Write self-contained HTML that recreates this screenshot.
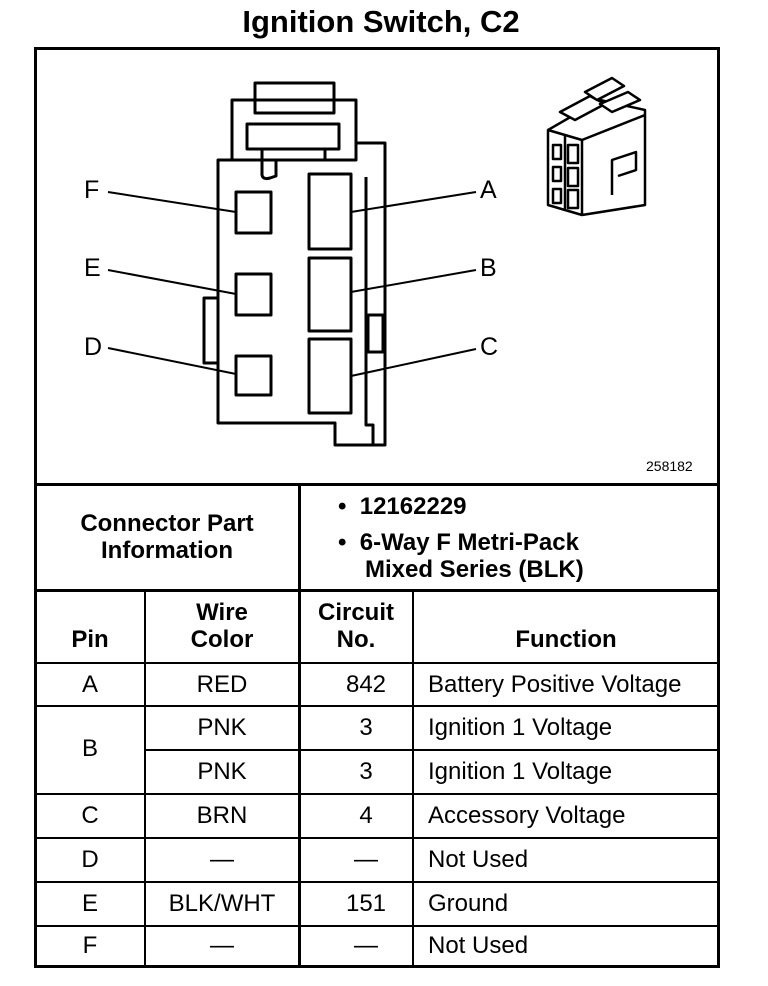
<!DOCTYPE html>
<html><head><style>
body{margin:0;background:#fff;width:768px;height:986px;position:relative;font-family:"Liberation Sans",Arial,sans-serif;color:#000;overflow:hidden}
.t{position:absolute;white-space:nowrap;line-height:28px}
.b{font-weight:bold}
.c{text-align:center}
.ln{position:absolute;background:#000}
</style></head><body>
<div class="t b c" style="left:0;width:762px;top:4px;font-size:31px;line-height:36px">Ignition Switch, C2</div>

<div class="ln" style="left:34px;top:47px;width:686px;height:3px"></div>
<div class="ln" style="left:34px;top:47px;width:3px;height:920px"></div>
<div class="ln" style="left:717px;top:47px;width:3px;height:920px"></div>
<div class="ln" style="left:34px;top:965px;width:686px;height:3px"></div>
<div class="ln" style="left:34px;top:483px;width:686px;height:3px"></div>
<div class="ln" style="left:34px;top:589px;width:686px;height:3px"></div>
<div class="ln" style="left:298px;top:483px;width:3px;height:484px"></div>
<div class="ln" style="left:144px;top:589px;width:2px;height:378px"></div>
<div class="ln" style="left:412px;top:589px;width:2px;height:378px"></div>
<div class="ln" style="left:34px;top:662px;width:686px;height:2px"></div>
<div class="ln" style="left:34px;top:705px;width:686px;height:2px"></div>
<div class="ln" style="left:144px;top:749px;width:576px;height:2px"></div>
<div class="ln" style="left:34px;top:793px;width:686px;height:2px"></div>
<div class="ln" style="left:34px;top:837px;width:686px;height:2px"></div>
<div class="ln" style="left:34px;top:881px;width:686px;height:2px"></div>
<div class="ln" style="left:34px;top:925px;width:686px;height:2px"></div>

<svg style="position:absolute;left:0;top:0" width="768" height="486">
<g fill="none" stroke="#000" stroke-width="3" stroke-linejoin="round">
<rect x="255" y="83" width="79" height="30"/>
<path d="M232 106 V160 H218 V423 H335 V445 H373 V425 H366 V177"/>
<path d="M232 106 V100 H356 V160 H232"/>
<path d="M356 143 H385 V445 H373"/>
<rect x="247" y="124" width="92" height="25"/>
<path d="M262 149 V175 Q263 180 270 178 L276 176 V160"/>
<path d="M325 149 V160"/>
<rect x="204" y="298" width="14" height="65"/>
<rect x="368" y="315" width="15" height="37"/>
<rect x="236" y="192" width="35" height="41"/>
<rect x="236" y="274" width="35" height="41"/>
<rect x="236" y="356" width="35" height="39"/>
<rect x="309" y="174" width="42" height="75"/>
<rect x="309" y="258" width="42" height="73"/>
<rect x="309" y="339" width="42" height="74"/>
</g>
<g stroke="#000" stroke-width="2">
<line x1="108" y1="192" x2="236" y2="212"/>
<line x1="108" y1="270" x2="236" y2="294"/>
<line x1="108" y1="348" x2="236" y2="374"/>
<line x1="351" y1="212" x2="476" y2="192"/>
<line x1="351" y1="292" x2="476" y2="270"/>
<line x1="351" y1="376" x2="476" y2="349"/>
</g>
<g fill="#fff" stroke="#000" stroke-width="2.5" stroke-linejoin="round">
<path d="M548 130 L600 100 L645 110 L645 205 L582 215 L548 205 Z"/>
<path d="M548 130 L582 140 L645 115 M582 140 V215 M565 135 V210"/>
<path d="M560 112 L590 96 L605 104 L575 120 Z"/>
<path d="M585 92 L612 78 L624 86 L597 100 Z"/>
<path d="M600 104 L628 92 L640 100 L612 112 Z"/>
<path d="M612 195 V160 L636 152 V170 L618 176"/>
<rect x="553" y="145" width="8" height="14"/>
<rect x="553" y="167" width="8" height="14"/>
<rect x="553" y="189" width="8" height="14"/>
<rect x="568" y="145" width="10" height="18"/>
<rect x="568" y="168" width="10" height="18"/>
<rect x="568" y="190" width="10" height="18"/>
</g>
</svg>
<div class="t" style="left:84px;top:176px;font-size:25px">F</div>
<div class="t" style="left:84px;top:254px;font-size:25px">E</div>
<div class="t" style="left:84px;top:333px;font-size:25px">D</div>
<div class="t" style="left:480px;top:176px;font-size:25px">A</div>
<div class="t" style="left:480px;top:254px;font-size:25px">B</div>
<div class="t" style="left:480px;top:333px;font-size:25px">C</div>
<div class="t" style="left:646px;top:452px;font-size:14px">258182</div>

<div style="position:absolute;left:0;top:0;font-size:24px">
<div class="t b c" style="left:36px;width:262px;top:510px">Connector Part</div>
<div class="t b c" style="left:36px;width:262px;top:537px">Information</div>
<div class="t b" style="left:338px;top:493px">•&nbsp; 12162229</div>
<div class="t b" style="left:338px;top:529px">•&nbsp; 6-Way F Metri-Pack</div>
<div class="t b" style="left:365px;top:556px">Mixed Series (BLK)</div>

<div class="t b c" style="left:36px;width:108px;top:626px">Pin</div>
<div class="t b c" style="left:146px;width:152px;top:599px">Wire</div>
<div class="t b c" style="left:146px;width:152px;top:626px">Color</div>
<div class="t b c" style="left:300px;width:112px;top:599px">Circuit</div>
<div class="t b c" style="left:300px;width:112px;top:626px">No.</div>
<div class="t b c" style="left:414px;width:304px;top:626px">Function</div>

<div class="t c" style="left:36px;width:108px;top:671px">A</div>
<div class="t c" style="left:36px;width:108px;top:735px">B</div>
<div class="t c" style="left:36px;width:108px;top:802px">C</div>
<div class="t c" style="left:36px;width:108px;top:846px">D</div>
<div class="t c" style="left:36px;width:108px;top:890px">E</div>
<div class="t c" style="left:36px;width:108px;top:932px">F</div>

<div class="t c" style="left:146px;width:152px;top:671px">RED</div>
<div class="t c" style="left:146px;width:152px;top:714px">PNK</div>
<div class="t c" style="left:146px;width:152px;top:758px">PNK</div>
<div class="t c" style="left:146px;width:152px;top:802px">BRN</div>
<div class="t c" style="left:146px;width:152px;top:846px">—</div>
<div class="t c" style="left:146px;width:152px;top:890px">BLK/WHT</div>
<div class="t c" style="left:146px;width:152px;top:932px">—</div>

<div class="t c" style="left:310px;width:112px;top:671px">842</div>
<div class="t c" style="left:310px;width:112px;top:714px">3</div>
<div class="t c" style="left:310px;width:112px;top:758px">3</div>
<div class="t c" style="left:310px;width:112px;top:802px">4</div>
<div class="t c" style="left:310px;width:112px;top:846px">—</div>
<div class="t c" style="left:310px;width:112px;top:890px">151</div>
<div class="t c" style="left:310px;width:112px;top:932px">—</div>

<div class="t" style="left:428px;top:671px">Battery Positive Voltage</div>
<div class="t" style="left:428px;top:714px">Ignition 1 Voltage</div>
<div class="t" style="left:428px;top:758px">Ignition 1 Voltage</div>
<div class="t" style="left:428px;top:802px">Accessory Voltage</div>
<div class="t" style="left:428px;top:846px">Not Used</div>
<div class="t" style="left:428px;top:890px">Ground</div>
<div class="t" style="left:428px;top:932px">Not Used</div>
</div>
</body></html>
